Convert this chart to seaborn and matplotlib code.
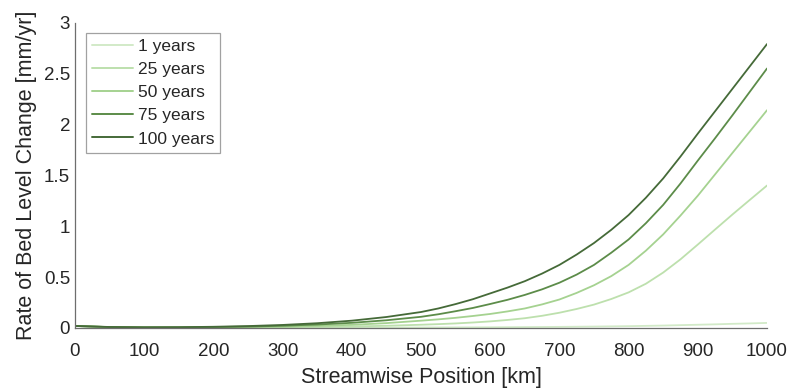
import numpy as np
import pandas as pd
import matplotlib
matplotlib.use("Agg")
import matplotlib.pyplot as plt
import seaborn as sns

# ---- data ----
position_km = [0, 50, 100, 150, 200, 250, 300, 350, 400, 450,
               500, 525, 550, 575, 600, 625, 650, 675, 700, 725, 750,
               775, 800, 825, 850, 875, 900, 925, 950, 975, 1000]
rate_1yr = [0.020, 0.008, 0.004, 0.003, 0.003, 0.003, 0.003, 0.003, 0.003, 0.004,
            0.005, 0.0055, 0.006, 0.0065, 0.007, 0.008, 0.009, 0.010, 0.011, 0.0125, 0.014,
            0.016, 0.018, 0.021, 0.024, 0.028, 0.032, 0.036, 0.041, 0.045, 0.050]
rate_25yr = [0.020, 0.008, 0.004, 0.004, 0.005, 0.006, 0.008, 0.011, 0.015, 0.022,
             0.032, 0.038, 0.045, 0.054, 0.065, 0.079, 0.096, 0.120, 0.150, 0.187, 0.230,
             0.285, 0.350, 0.435, 0.545, 0.675, 0.820, 0.968, 1.115, 1.258, 1.400]
rate_50yr = [0.020, 0.009, 0.005, 0.005, 0.007, 0.010, 0.014, 0.021, 0.031, 0.048,
             0.072, 0.085, 0.100, 0.118, 0.138, 0.163, 0.192, 0.232, 0.280, 0.345, 0.420,
             0.510, 0.620, 0.760, 0.920, 1.105, 1.300, 1.510, 1.720, 1.930, 2.140]
rate_75yr = [0.020, 0.009, 0.006, 0.006, 0.009, 0.014, 0.022, 0.034, 0.051, 0.076,
             0.110, 0.135, 0.165, 0.197, 0.236, 0.277, 0.325, 0.380, 0.445, 0.525, 0.620,
             0.740, 0.870, 1.030, 1.210, 1.420, 1.645, 1.865, 2.090, 2.320, 2.550]
rate_100yr = [0.020, 0.010, 0.007, 0.008, 0.012, 0.019, 0.030, 0.047, 0.072, 0.108,
              0.157, 0.192, 0.235, 0.283, 0.340, 0.397, 0.460, 0.535, 0.620, 0.722, 0.835,
              0.965, 1.110, 1.280, 1.470, 1.685, 1.910, 2.130, 2.350, 2.570, 2.790]
series_labels = ["1 years", "25 years", "50 years", "75 years", "100 years"]
series_colors = ["#d2eac8", "#bde0ad", "#a5d290", "#5c8c49", "#456a38"]
x_ticks = [0, 100, 200, 300, 400, 500, 600, 700, 800, 900, 1000]
y_ticks = [0, 0.5, 1, 1.5, 2, 2.5, 3]
y_tick_labels = ["0", "0.5", "1", "1.5", "2", "2.5", "3"]

all_series = [rate_1yr, rate_25yr, rate_50yr, rate_75yr, rate_100yr]
frames = []
for lab, vals in zip(series_labels, all_series):
    frames.append(pd.DataFrame({"x": position_km, "y": vals, "series": lab}))
df = pd.concat(frames, ignore_index=True)

sns.set_theme(style="white")
plt.rcParams["font.family"] = ["Liberation Sans", "DejaVu Sans"]

text_color = "#262626"
axis_color = "#6e6e6e"

fig = plt.figure(figsize=(7.89, 3.90), dpi=100)
ax = fig.add_axes([75 / 789, 1 - 328 / 390, 692 / 789, (328 - 22.7) / 390])

palette = dict(zip(series_labels, series_colors))
sns.lineplot(data=df, x="x", y="y", hue="series", hue_order=series_labels,
             palette=palette, linewidth=1.3, ax=ax, legend=False)

ax.set_xlim(0, 1000)
ax.set_ylim(0, 3)
ax.set_xticks(x_ticks)
ax.set_xticklabels([str(t) for t in x_ticks])
ax.set_yticks(y_ticks)
ax.set_yticklabels(y_tick_labels)

for s in ["top", "right"]:
    ax.spines[s].set_visible(False)
for s in ["left", "bottom"]:
    ax.spines[s].set_color(axis_color)
    ax.spines[s].set_linewidth(0.9)

ax.tick_params(axis="both", direction="in", length=4, width=0.8,
               color=axis_color, labelsize=13.5, labelcolor=text_color)
ax.tick_params(axis="x", pad=11)
ax.tick_params(axis="y", pad=3.5)

ax.set_xlabel("Streamwise Position [km]", fontsize=15.5, color=text_color, labelpad=4.5)
ax.set_ylabel("Rate of Bed Level Change [mm/yr]", fontsize=15.5, color=text_color, labelpad=5)

handles = [plt.Line2D([], [], color=c, lw=1.4) for c in series_colors]
leg = ax.legend(handles, series_labels, loc="upper left",
                bbox_to_anchor=(0.0155, 0.967), borderaxespad=0,
                fontsize=12.5, frameon=True, fancybox=False, shadow=False,
                handlelength=2.4, handletextpad=0.25, labelspacing=0.46,
                borderpad=0.35)
leg.get_frame().set_edgecolor("#8a8a8a")
leg.get_frame().set_linewidth(0.9)
for t in leg.get_texts():
    t.set_color(text_color)

fig.savefig("out.png", dpi=100)
